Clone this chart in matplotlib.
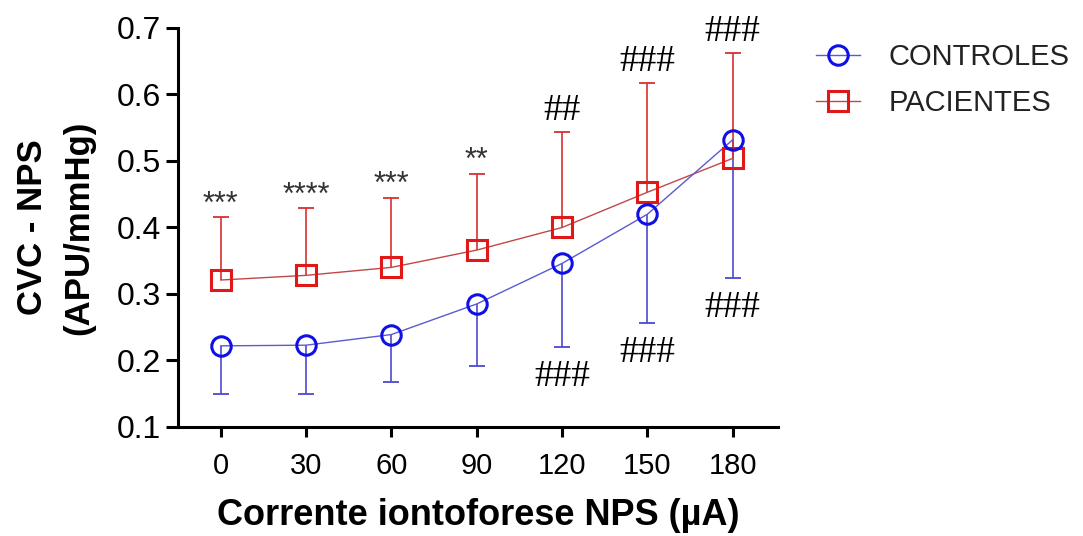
import matplotlib
matplotlib.use("Agg")
import matplotlib.pyplot as plt
from matplotlib.lines import Line2D
import numpy as np

# currents (uA) and group means / error-bar ends (APU/mmHg)
currents = ["0", "30", "60", "90", "120", "150", "180"]
controles_mean = [0.222, 0.223, 0.239, 0.285, 0.346, 0.420, 0.532]
controles_low = [0.149, 0.150, 0.168, 0.192, 0.220, 0.257, 0.324]
pacientes_mean = [0.321, 0.328, 0.340, 0.366, 0.400, 0.453, 0.504]
pacientes_high = [0.416, 0.429, 0.445, 0.481, 0.543, 0.617, 0.662]

# significance marks
marks_above = ["***", "****", "***", "**", "##", "###", "###"]
marks_below = ["", "", "", "", "###", "###", "###"]

plt.rcParams["font.family"] = ["Liberation Sans", "DejaVu Sans"]

fig = plt.figure(figsize=(10.83, 5.36), dpi=100)
ax = fig.add_axes([0.1644, 0.2034, 0.554, 0.7444])

x = np.arange(len(currents))
blue_line = "#5a5ad2"
blue_mk = "#1010e6"
red_line = "#c04848"
red_mk = "#e01818"
serif = ["Liberation Serif", "DejaVu Serif"]

# error bars (one-sided)
ax.vlines(x, controles_low, controles_mean, color="#4a4ad0", lw=1.2, zorder=2)
ax.plot(x, controles_low, ls="none", marker="_", ms=12, mew=1.3, color="#4a4ad0", zorder=2)
ax.vlines(x, pacientes_mean, pacientes_high, color="#d83030", lw=1.2, zorder=2)
ax.plot(x, pacientes_high, ls="none", marker="_", ms=12, mew=1.3, color="#d83030", zorder=2)

# lines + markers
ax.plot(x, pacientes_mean, color=red_line, lw=1.0, zorder=3)
ax.plot(x, pacientes_mean, ls="none", marker="s", ms=14, mfc="none", mec=red_mk, mew=2.2, zorder=4)
ax.plot(x, controles_mean, color=blue_line, lw=1.0, zorder=3)
ax.plot(x, controles_mean, ls="none", marker="o", ms=14, mfc="none", mec=blue_mk, mew=2.2, zorder=4)

for i, m in enumerate(marks_above):
    if m.startswith("*"):
        ax.annotate(m, (x[i], pacientes_high[i]), xytext=(0, -2), textcoords="offset points",
                    ha="center", va="bottom", fontsize=22, color="#333333")
    else:
        ax.annotate(m, (x[i], pacientes_high[i]), xytext=(0, 3), textcoords="offset points",
                    ha="center", va="bottom", fontsize=27, color="black", family=serif)
for i, m in enumerate(marks_below):
    if m:
        ax.annotate(m, (x[i], controles_low[i]), xytext=(0, -9), textcoords="offset points",
                    ha="center", va="top", fontsize=27, color="black", family=serif)

ax.set_xlim(-0.5, 6.53)
ax.set_ylim(0.1, 0.7)
ax.set_xticks(x)
ax.set_xticklabels(currents)
ax.set_yticks([0.1, 0.2, 0.3, 0.4, 0.5, 0.6, 0.7])
ax.set_yticklabels(["0.1", "0.2", "0.3", "0.4", "0.5", "0.6", "0.7"])

for s in ["top", "right"]:
    ax.spines[s].set_visible(False)
for s in ["left", "bottom"]:
    ax.spines[s].set_linewidth(2.2)
ax.tick_params(axis="y", length=9, width=2.2, labelsize=23, pad=3)
ax.tick_params(axis="x", length=7, width=2.2, labelsize=21, pad=11)

ax.set_xlabel("Corrente iontoforese NPS (µA)", fontsize=26, fontweight="bold", labelpad=13)
ax.set_ylabel("CVC - NPS\n(APU/mmHg)", fontsize=25, fontweight="bold", labelpad=16, linespacing=1.5)

handles = [
    Line2D([], [], color=blue_line, lw=1.0, marker="o", ms=14, mfc="none", mec=blue_mk, mew=2.2),
    Line2D([], [], color=red_line, lw=1.0, marker="s", ms=14, mfc="none", mec=red_mk, mew=2.2),
]
fig.legend(handles, ["CONTROLES", "PACIENTES"], loc="upper left", bbox_to_anchor=(0.729, 0.968),
           frameon=False, fontsize=21, handlelength=1.5, handletextpad=1.0, labelspacing=0.62,
           labelcolor="#222222")

fig.savefig("out.png", dpi=100)
